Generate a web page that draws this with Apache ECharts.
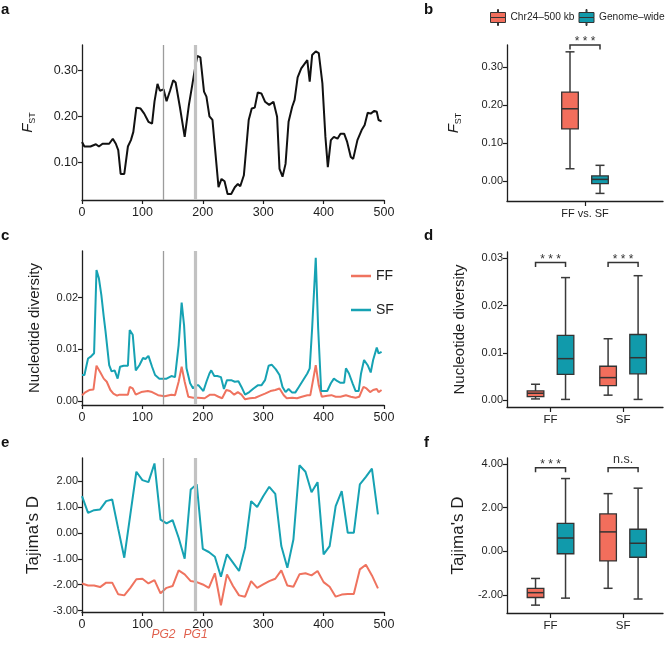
<!DOCTYPE html>
<html><head><meta charset="utf-8">
<script src="https://cdn.jsdelivr.net/npm/echarts@6/dist/echarts.min.js"></script>
<style>html,body{margin:0;padding:0;background:#fff}#c{width:666px;height:645px}</style>
</head><body><div id="c"></div>
<script>
// ---------- data ----------
const posA = [0,4,14,23,28,34,45,51,56,60,64,70,76,81,85,90,97,103,110,116,120,125,129,135,140,146,151,155,162,170,177,183,188,191,196,202,206,211,216,220,226,231,236,241,247,253,258,262,268,276,281,286,291,297,303,310,317,323,327,332,337,342,348,352,357,363,373,377,381,387,392,398,403,407,412,417,423,428,434,439,445,449,456,463,468,473,478,484,488,491,496];
const fstA = [0.144,0.134,0.134,0.139,0.134,0.140,0.140,0.151,0.140,0.126,0.074,0.074,0.134,0.148,0.166,0.219,0.217,0.206,0.188,0.184,0.232,0.271,0.256,0.259,0.233,0.257,0.279,0.274,0.221,0.155,0.225,0.272,0.312,0.332,0.329,0.254,0.243,0.200,0.192,0.133,0.045,0.063,0.058,0.030,0.030,0.045,0.052,0.047,0.071,0.192,0.217,0.219,0.252,0.250,0.232,0.225,0.232,0.199,0.085,0.068,0.096,0.188,0.221,0.236,0.285,0.305,0.323,0.276,0.334,0.342,0.338,0.272,0.155,0.089,0.148,0.155,0.151,0.162,0.162,0.144,0.111,0.107,0.148,0.170,0.181,0.208,0.206,0.212,0.210,0.192,0.189];

const posSFc = [0,4,10,14,20,24,28,32,36,39,45,49,54,59,63,69,76,79,84,89,95,101,105,110,116,121,128,140,148,154,160,165,169,173,179,184,188,193,201,206,211,214,219,224,230,235,240,247,253,259,264,270,277,284,291,297,303,309,314,321,327,332,337,342,348,353,359,366,373,377,381,387,391,396,406,412,417,423,428,434,437,442,448,453,458,462,467,473,478,482,488,491,496];
const sfC = [0.0050,0.0050,0.0082,0.0085,0.0092,0.0253,0.0237,0.0205,0.0163,0.0134,0.0069,0.0057,0.0059,0.0043,0.0066,0.0068,0.0068,0.0137,0.0128,0.0059,0.0069,0.0083,0.0081,0.0087,0.0066,0.0050,0.0043,0.0043,0.0048,0.0046,0.0108,0.0190,0.0146,0.0063,0.0034,0.0024,0.0030,0.0030,0.0019,0.0037,0.0053,0.0059,0.0048,0.0048,0.0046,0.0023,0.0040,0.0040,0.0037,0.0038,0.0027,0.0012,0.0017,0.0024,0.0030,0.0030,0.0040,0.0068,0.0070,0.0061,0.0050,0.0027,0.0017,0.0023,0.0016,0.0016,0.0027,0.0040,0.0053,0.0063,0.0140,0.0277,0.0140,0.0019,0.0019,0.0034,0.0043,0.0038,0.0035,0.0035,0.0063,0.0053,0.0034,0.0019,0.0019,0.0053,0.0079,0.0069,0.0055,0.0079,0.0103,0.0092,0.0095];
const posFFc = [0,6,12,19,24,30,36,41,47,52,58,62,70,76,79,84,89,98,109,116,126,137,148,154,160,165,170,176,184,192,203,212,219,226,232,239,245,252,258,264,270,278,287,295,303,312,320,327,334,339,348,356,364,373,378,387,392,397,406,413,420,428,437,445,453,459,466,471,477,482,488,491,496];
const ffC = [0.0011,0.0017,0.0021,0.0022,0.0068,0.0056,0.0043,0.0037,0.0021,0.0014,0.0010,0.0012,0.0012,0.0012,0.0027,0.0024,0.0012,0.0017,0.0019,0.0017,0.0011,0.0009,0.0012,0.0011,0.0037,0.0066,0.0037,0.0008,0.0006,0.0006,0.0005,0.0012,0.0012,0.0008,0.0005,0.0021,0.0019,0.0012,0.0017,0.0012,0.0003,0.0005,0.0006,0.0010,0.0014,0.0019,0.0021,0.0024,0.0011,0.0005,0.0006,0.0005,0.0008,0.0011,0.0011,0.0069,0.0030,0.0008,0.0010,0.0011,0.0008,0.0008,0.0011,0.0008,0.0006,0.0008,0.0027,0.0024,0.0017,0.0021,0.0023,0.0017,0.0021];

const posE = [0,10,20,30,40,50,60,70,80,90,100,110,120,130,140,150,160,170,180,190,200,210,220,230,240,250,260,270,280,290,300,310,320,330,340,350,360,370,380,390,400,410,420,430,440,450,460,470,480,490];
const sfE = [1.41,0.77,0.87,0.90,1.22,1.28,0.15,-0.96,0.70,2.35,2.03,1.95,2.67,0.51,0.36,0.49,-0.19,-1.00,1.67,1.87,-0.62,-0.74,-0.92,-1.69,-0.83,-1.15,-1.47,-0.58,1.22,0.99,1.41,1.77,1.50,-0.51,-1.35,-0.26,2.60,2.35,1.56,1.95,-0.83,-0.51,1.03,1.60,0.00,0.00,1.86,2.15,2.47,0.71];
const ffE = [-1.95,-2.03,-2.03,-2.09,-1.92,-1.92,-2.37,-2.41,-2.12,-1.79,-1.77,-1.95,-1.82,-2.33,-2.12,-2.05,-1.45,-1.60,-1.86,-1.90,-1.99,-2.12,-1.56,-2.79,-1.60,-2.05,-2.41,-2.46,-1.86,-2.12,-1.99,-1.86,-1.77,-1.45,-2.03,-2.08,-1.60,-1.56,-1.64,-1.47,-1.90,-2.08,-2.46,-2.38,-2.36,-2.36,-1.41,-1.23,-1.64,-2.14];

const geneLines = [135, 188];
const geneNames = ['PG2', 'PG1'];

// box stats: [group, min, Q1, median, Q3, max]
const boxBRed  = [[1, 0.032, 0.137, 0.190, 0.234, 0.340]];
const boxBTeal = [[1, -0.033, -0.007, 0.004, 0.013, 0.041]];
const boxDRed  = [[1, 0.0003, 0.0008, 0.0015, 0.0020, 0.0034], [2, 0.0011, 0.0031, 0.0048, 0.0072, 0.0130]];
const boxDTeal = [[1, 0.0002, 0.0055, 0.0088, 0.0137, 0.0259], [2, 0.0002, 0.0056, 0.0090, 0.0139, 0.0263]];
const boxFRed  = [[1, -2.46, -2.11, -1.89, -1.69, -1.24], [2, -1.69, -0.44, 0.89, 1.71, 2.64]];
const boxFTeal = [[1, -2.14, -0.11, 0.61, 1.28, 3.33], [2, -2.18, -0.27, 0.37, 1.01, 2.89]];
const groupsB = ['FF vs. SF'];
const groupsDF = ['FF', 'SF'];
const sigB = [[1, 0.358]], sigBText = ['* * *'];
const sigD = [[1, 0.0291], [2, 0.0291]], sigDText = ['* * *', '* * *'];
const sigF = [[1, 3.82], [2, 3.82]], sigFText = ['* * *', 'n.s.'];

const ticksA = [0.1, 0.2, 0.3];
const ticksC = [0, 0.01, 0.02];
const ticksE = [-3, -2, -1, 0, 1, 2];
const ticksB = [0, 0.1, 0.2, 0.3];
const ticksD = [0, 0.01, 0.02, 0.03];
const ticksF = [-2, 0, 2, 4];

// ---------- styles ----------
const FONT = '"Liberation Sans", Arial, Helvetica, sans-serif';
const RED = '#ef735f', TEAL = '#16a2b3', BOXRED = '#f26e5c', BOXTEAL = '#119aab';
const INK = '#1e1e1e';
const axLine = {show: true, onZero: false, lineStyle: {color: INK, width: 1.3}};
const axTick = {show: true, length: 4, lineStyle: {color: INK, width: 1.2}};
function pairs(xs, ys) { return xs.map((x, i) => [x, ys[i]]); }

function xLeft(i) {
  return {type: 'value', gridIndex: i, min: 0, max: 500, interval: 100,
    axisLine: axLine, axisTick: axTick, splitLine: {show: false},
    axisLabel: {fontSize: 12.5, color: INK, fontFamily: FONT, margin: 6}};
}
function yAxis(i, min, max, ticks, dec, name, gap, fs, nameStyle) {
  return {type: 'value', gridIndex: i, min: min, max: max,
    axisLine: axLine, splitLine: {show: false},
    axisTick: Object.assign({}, axTick, {customValues: ticks}),
    axisLabel: {customValues: ticks, fontSize: fs, color: INK, fontFamily: FONT, margin: 4,
      formatter: v => Number(v).toFixed(dec)},
    name: name, nameLocation: 'middle', nameGap: gap, nameRotate: 90,
    nameTextStyle: nameStyle};
}
function xRight(i, min, max, ticks, names, fs) {
  return {type: 'value', gridIndex: i, min: min, max: max,
    axisLine: axLine, splitLine: {show: false},
    axisTick: {show: true, length: 5, lineStyle: {color: INK, width: 1.2}, customValues: ticks},
    axisLabel: {customValues: ticks, fontSize: fs, color: INK, fontFamily: FONT, margin: 7,
      formatter: v => names[Math.round(v) - 1]}};
}
const fstName = {rich: {
  f: {fontStyle: 'italic', fontSize: 15, fontFamily: FONT, color: INK, lineHeight: 18, verticalAlign: 'middle'},
  s: {fontSize: 9, fontFamily: FONT, color: INK, lineHeight: 18, verticalAlign: 'bottom', padding: [6, 0, 0, 0]}}};
const txtName = (fs) => ({fontSize: fs, fontFamily: FONT, color: INK});

function boxItem(off) {
  return function (params, api) {
    const xv = api.value(0);
    const P = v => api.coord([xv, v]);
    const cx = P(api.value(3))[0] + off;
    const yLo = P(api.value(1))[1], yQ1 = P(api.value(2))[1], yMed = P(api.value(3))[1],
          yQ3 = P(api.value(4))[1], yHi = P(api.value(5))[1];
    const col = api.visual('color');
    const ws = {stroke: '#3a3a3a', lineWidth: 1.5};
    const hw = 8.3, cw = 4.5;
    return {type: 'group', children: [
      {type: 'line', shape: {x1: cx, y1: yHi, x2: cx, y2: yQ3}, style: ws},
      {type: 'line', shape: {x1: cx, y1: yQ1, x2: cx, y2: yLo}, style: ws},
      {type: 'line', shape: {x1: cx - cw, y1: yHi, x2: cx + cw, y2: yHi}, style: ws},
      {type: 'line', shape: {x1: cx - cw, y1: yLo, x2: cx + cw, y2: yLo}, style: ws},
      {type: 'rect', shape: {x: cx - hw, y: yQ3, width: 2 * hw, height: yQ1 - yQ3}, style: {fill: col, stroke: '#333', lineWidth: 1.3}},
      {type: 'line', shape: {x1: cx - hw, y1: yMed, x2: cx + hw, y2: yMed}, style: {stroke: '#333', lineWidth: 1.5}}
    ]};
  };
}
function sigItem(texts) {
  return function (params, api) {
    const p = api.coord([api.value(0), api.value(1)]);
    const x1 = p[0] - 15, x2 = p[0] + 15, y = p[1];
    const t = texts[params.dataIndex];
    const isStar = t.indexOf('*') >= 0;
    return {type: 'group', children: [
      {type: 'polyline', shape: {points: [[x1, y + 4.5], [x1, y], [x2, y], [x2, y + 4.5]]}, style: {stroke: '#333', lineWidth: 1.5, fill: null}},
      {type: 'text', style: {text: t, x: p[0], y: isStar ? y + 3 : y - 1.5, align: 'center', verticalAlign: 'bottom',
        fontSize: isStar ? 12 : 12.5, fontFamily: FONT, fill: '#333'}}
    ]};
  };
}
function boxSeries(name, col, xi, data, off) {
  return {type: 'custom', name: name, xAxisIndex: xi, yAxisIndex: xi, data: data,
    itemStyle: {color: col}, renderItem: boxItem(off), encode: {x: 0, y: [1, 2, 3, 4, 5]}, z: 3};
}
function sigSeries(xi, data, texts) {
  return {type: 'custom', xAxisIndex: xi, yAxisIndex: xi, data: data, renderItem: sigItem(texts), z: 4, silent: true};
}
function vlineSeries(i) {
  return {type: 'line', xAxisIndex: i, yAxisIndex: i, data: [], z: 1, silent: true,
    markLine: {silent: true, symbol: ['none', 'none'], label: {show: false}, animation: false,
      data: [
        {xAxis: geneLines[0], lineStyle: {color: '#9c9c9c', width: 1.3, type: 'solid'}},
        {xAxis: geneLines[1], lineStyle: {color: '#c2c2c2', width: 3.2, type: 'solid'}}
      ]}};
}
function lineSeries(name, col, i, data, w) {
  return {type: 'line', name: name, xAxisIndex: i, yAxisIndex: i, data: data, showSymbol: false,
    symbol: 'none', lineStyle: {color: col, width: w}, itemStyle: {color: col}, z: 3};
}

const BOXICON = 'path://M7,0L8,0L8,3L7,3Z M0,3L15,3L15,8L0,8Z M0,8L15,8L15,13L0,13Z M7,13L8,13L8,16L7,16Z';

const option = {
  animation: false,
  backgroundColor: '#fff',
  textStyle: {fontFamily: FONT},
  grid: [
    {left: 82, top: 45, width: 302, height: 155},
    {left: 82, top: 251, width: 302, height: 154},
    {left: 82, top: 458, width: 302, height: 154},
    {left: 507, top: 45, width: 156, height: 156},
    {left: 507, top: 252, width: 156, height: 155},
    {left: 507, top: 458, width: 156, height: 155}
  ],
  xAxis: [
    xLeft(0), xLeft(1), xLeft(2),
    xRight(3, 0, 2, [1], groupsB, 11),
    xRight(4, 0.4, 2.55, [1, 2], groupsDF, 11.5),
    xRight(5, 0.4, 2.55, [1, 2], groupsDF, 11.5)
  ],
  yAxis: [
    yAxis(0, 0.017, 0.356, ticksA, 2, '{f|F}{s|ST}', 45, 12.5, fstName),
    yAxis(1, -0.0008, 0.029, ticksC, 2, 'Nucleotide diversity', 40, 11, txtName(15)),
    yAxis(2, -3.05, 2.88, ticksE, 2, "Tajima's D", 40, 11, txtName(17)),
    yAxis(3, -0.053, 0.358, ticksB, 2, '{f|F}{s|ST}', 44, 11, fstName),
    yAxis(4, -0.0014, 0.0313, ticksD, 2, 'Nucleotide diversity', 40, 11, txtName(15)),
    yAxis(5, -2.82, 4.27, ticksF, 2, "Tajima's D", 40, 11, txtName(17))
  ],
  legend: [
    {left: 490, top: 9, width: 200, padding: 0, orient: 'horizontal', itemWidth: 15, itemHeight: 16, itemGap: 4,
      textStyle: {fontSize: 10.2, fontFamily: FONT, color: INK},
      itemStyle: {borderColor: '#333', borderWidth: 1},
      data: [{name: 'Chr24–500 kb', icon: BOXICON}, {name: 'Genome–wide', icon: BOXICON}]},
    {left: 346, top: 264, orient: 'vertical', itemWidth: 20, itemHeight: 2.5, itemGap: 20,
      textStyle: {fontSize: 14, fontFamily: FONT, color: INK},
      data: [{name: 'FF', icon: 'rect'}, {name: 'SF', icon: 'rect'}]}
  ],
  series: [
    vlineSeries(0), vlineSeries(1), vlineSeries(2),
    lineSeries('Chr24 FST', '#111', 0, pairs(posA, fstA), 2),
    lineSeries('FF', RED, 1, pairs(posFFc, ffC), 2),
    lineSeries('SF', TEAL, 1, pairs(posSFc, sfC), 2),
    lineSeries('FF', RED, 2, pairs(posE, ffE), 2),
    lineSeries('SF', TEAL, 2, pairs(posE, sfE), 2),
    boxSeries('Chr24–500 kb', BOXRED, 3, boxBRed, -15),
    boxSeries('Genome–wide', BOXTEAL, 3, boxBTeal, 15),
    boxSeries('Chr24–500 kb', BOXRED, 4, boxDRed, -15),
    boxSeries('Genome–wide', BOXTEAL, 4, boxDTeal, 15),
    boxSeries('Chr24–500 kb', BOXRED, 5, boxFRed, -15),
    boxSeries('Genome–wide', BOXTEAL, 5, boxFTeal, 15),
    sigSeries(3, sigB, sigBText),
    sigSeries(4, sigD, sigDText),
    sigSeries(5, sigF, sigFText)
  ]
};

const chart = echarts.init(document.getElementById('c'), null, {renderer: 'canvas'});
chart.setOption(option);

// panel letters and gene labels
const letter = (t, x, y) => ({type: 'text', left: x, top: y, style: {text: t, fontSize: 15, fontWeight: 'bold', fontFamily: FONT, fill: '#111'}});
const graphics = [
  letter('a', 1, 2), letter('b', 424, 2), letter('c', 1, 228),
  letter('d', 424, 228), letter('e', 1, 435), letter('f', 424, 435)
];
geneLines.forEach((g, k) => {
  const px = chart.convertToPixel({xAxisIndex: 2}, g);
  graphics.push({type: 'text', x: px, y: 635, style: {text: geneNames[k], align: 'center', verticalAlign: 'middle',
    fontSize: 12, fontStyle: 'italic', fontFamily: FONT, fill: '#e0604d'}});
});
chart.setOption({graphic: graphics});
</script>
</body></html>
